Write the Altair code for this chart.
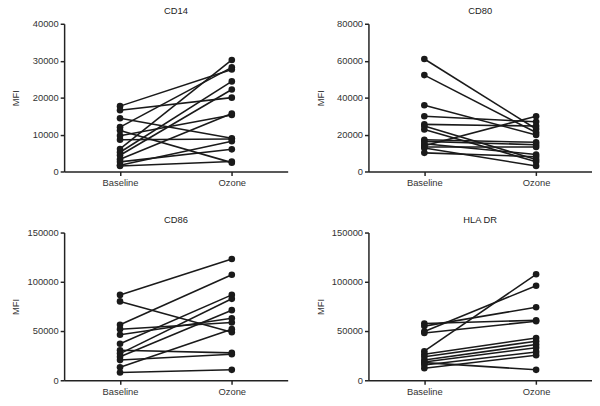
import altair as alt
import pandas as pd

conditions = ["Baseline", "Ozone"]

cd14_baseline = [17700, 16600, 14400, 12000, 11100, 9700, 8600, 6100, 5200, 4400, 3300, 2600, 1700, 1500]
cd14_ozone    = [27600, 20000, 9000, 28200, 2400, 15300, 8800, 30200, 24400, 22200, 15700, 6000, 8200, 2700]

cd80_baseline = [60900, 52200, 35900, 29900, 25500, 24600, 22800, 17200, 16300, 15000, 14000, 13300, 12700, 10100]
cd80_ozone    = [23000, 21100, 19800, 26900, 24600, 6500, 5300, 15800, 14500, 9200, 29900, 13300, 3000, 8000]

cd86_baseline = [86700, 80100, 56300, 51900, 46300, 37100, 30500, 27100, 23800, 20500, 13200, 7900]
cd86_ozone    = [123100, 48700, 107200, 58600, 62900, 86700, 27800, 82700, 71200, 26500, 51900, 10600]

hla_baseline = [57600, 55000, 49500, 48000, 29500, 26500, 23800, 20500, 18500, 17900, 15600, 12200]
hla_ozone    = [60900, 74200, 96000, 60000, 107600, 43000, 39700, 36400, 33100, 10600, 28800, 25500]

panels = [
    ("CD14", cd14_baseline, cd14_ozone, 40000, [0, 10000, 20000, 30000, 40000]),
    ("CD80", cd80_baseline, cd80_ozone, 80000, [0, 20000, 40000, 60000, 80000]),
    ("CD86", cd86_baseline, cd86_ozone, 150000, [0, 50000, 100000, 150000]),
    ("HLA DR", hla_baseline, hla_ozone, 150000, [0, 50000, 100000, 150000]),
]

FONT = "Liberation Sans"
INK = "#1a1a1a"


def panel(title, base, oz, ymax, ticks):
    rows = []
    for i, (b, o) in enumerate(zip(base, oz)):
        rows.append({"subject": i, "condition": conditions[0], "MFI": b})
        rows.append({"subject": i, "condition": conditions[1], "MFI": o})
    df = pd.DataFrame(rows)
    x = alt.X("condition:N", sort=conditions,
              scale=alt.Scale(type="point", padding=0.5),
              axis=alt.Axis(title=None, labelAngle=0))
    y = alt.Y("MFI:Q", scale=alt.Scale(domain=[0, ymax], nice=False),
              axis=alt.Axis(title="MFI", values=ticks, format="d", titleX=-44, titleY=75))
    base_chart = alt.Chart(df)
    lines = base_chart.mark_line(color=INK, strokeWidth=1.6).encode(x=x, y=y, detail="subject:N")
    pts = base_chart.mark_circle(color=INK, size=45, opacity=1).encode(x=x, y=y)
    return alt.layer(lines, pts).properties(
        width=227, height=150,
        title=alt.TitleParams(title, fontSize=9.5, font=FONT, fontWeight="normal", color="#222", offset=3),
    )


charts = [panel(*p) for p in panels]

chart = alt.vconcat(
    alt.hconcat(charts[0], charts[1], spacing=28),
    alt.hconcat(charts[2], charts[3], spacing=28),
    spacing=28,
).configure_view(stroke=None).configure_axis(
    grid=False,
    domainColor="#222",
    domainWidth=1.5,
    tickColor="#222",
    tickWidth=1.5,
    tickSize=4,
    labelFont=FONT,
    labelFontSize=9.5,
    labelColor="#333",
    titleFont=FONT,
    titleFontSize=9.5,
    titleFontWeight="normal",
    titleColor="#333",
    labelPadding=2,
).properties(padding={"left": 3, "top": -5, "right": 0, "bottom": 0})

chart.save("out.html", embed_options={"renderer": "svg", "actions": False})
